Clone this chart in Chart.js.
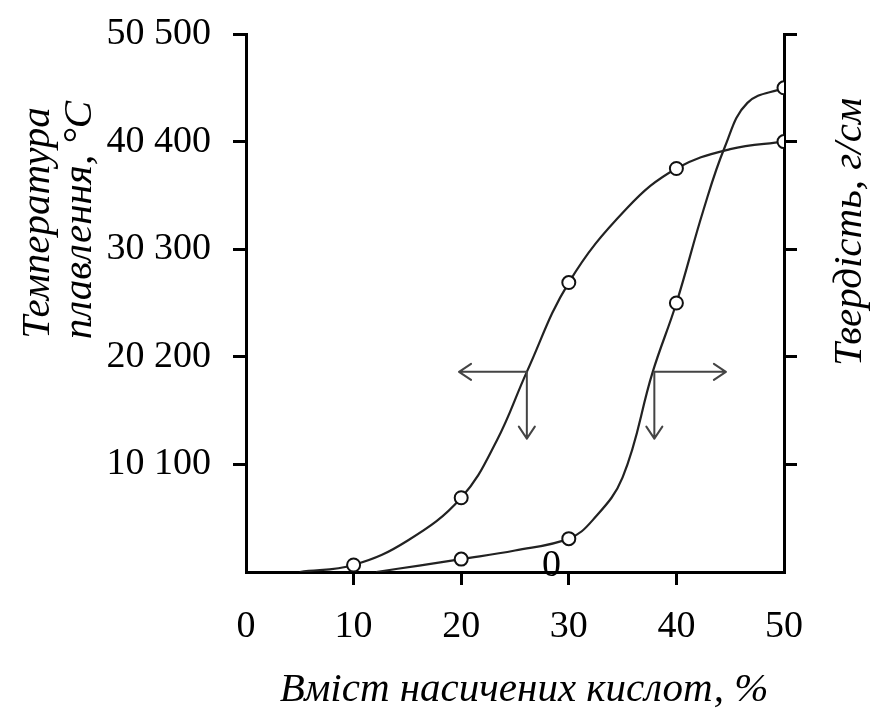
<!DOCTYPE html>
<html>
<head>
<meta charset="utf-8">
<script src="https://cdn.jsdelivr.net/npm/chart.js@4"></script>
<style>
html,body{margin:0;padding:0;background:#fff;}
#wrap{width:871px;height:711px;}
</style>
</head>
<body>
<div id="wrap"><canvas id="c" width="871" height="711"></canvas></div>
<script>
// ---- data ----
const xTicks = [0, 10, 20, 30, 40, 50];
const leftTickLabels = {10: '10 100', 20: '20 200', 30: '30 300', 40: '40 400', 50: '50 500'};

// melting temperature (left scale) – measured points
const tempX = [10, 20, 30, 40, 50];
const tempY = [0.65, 6.9, 26.9, 37.5, 40];
// smooth curve traced through them
const tempCurveX = [5, 10, 15, 20, 23.3, 26.1, 30, 35.4, 40, 45, 50];
const tempCurveY = [0, 0.65, 2.9, 6.9, 12.2, 18.6, 26.9, 33.8, 37.5, 39.3, 40];

// hardness (right scale) – measured points
const hardX = [20, 30, 40, 50];
const hardY = [1.2, 3.1, 25, 45];
const hardCurveX = [12.1, 16.1, 20, 25, 30, 32.2, 35, 37.8, 40, 42.5, 44.5, 46.6, 50];
const hardCurveY = [0, 0.6, 1.2, 2.0, 3.1, 4.8, 8.8, 18.6, 25, 33.6, 39.5, 43.6, 45];

// arrows (data units): origin, horizontal end, vertical end
const arrows = [
  {x: 26.1, y: 18.6, hx: 19.8, vy: 12.4},
  {x: 37.95, y: 18.6, hx: 44.6, vy: 12.4}
];
const strayLabel = {x: 28.4, y: 0.65, text: '0'};

const leftTitle = ['Температура', 'плавлення, °C'];
const rightTitle = 'Твердість, г/см';
const bottomTitle = 'Вміст насичених кислот, %';

// ---- chart ----
const SERIF = '"Liberation Serif", "Times New Roman", serif';
const pts = (xs, ys) => xs.map((x, i) => ({x, y: ys[i]}));
const tickColor = (hide) => (ctx) => (hide.includes(ctx.tick && ctx.tick.value) ? 'rgba(0,0,0,0)' : '#000');

const extras = {
  id: 'extras',
  afterDatasetsDraw(chart) {
    const {ctx} = chart;
    const xs = chart.scales.x, ys = chart.scales.y;
    ctx.save();
    ctx.strokeStyle = '#444';
    ctx.lineWidth = 2;
    ctx.lineCap = 'round';
    ctx.lineJoin = 'round';
    const head = 12, half = 8;
    arrows.forEach(a => {
      const ox = xs.getPixelForValue(a.x), oy = ys.getPixelForValue(a.y);
      const hx = xs.getPixelForValue(a.hx), vy = ys.getPixelForValue(a.vy);
      ctx.beginPath();
      ctx.moveTo(ox, oy); ctx.lineTo(hx, oy);
      ctx.moveTo(ox, oy); ctx.lineTo(ox, vy);
      const d = Math.sign(hx - ox);
      ctx.moveTo(hx - d * head, oy - half); ctx.lineTo(hx, oy); ctx.lineTo(hx - d * head, oy + half);
      ctx.moveTo(ox - half, vy - head); ctx.lineTo(ox, vy); ctx.lineTo(ox + half, vy - head);
      ctx.stroke();
    });
    ctx.fillStyle = '#000';
    ctx.font = '38px ' + SERIF;
    ctx.textAlign = 'center';
    ctx.textBaseline = 'middle';
    ctx.fillText(strayLabel.text, xs.getPixelForValue(strayLabel.x), ys.getPixelForValue(strayLabel.y) + 1);

    ctx.font = 'italic 41px ' + SERIF;
    const rot = (text, x, y) => {
      ctx.save(); ctx.translate(x, y); ctx.rotate(-Math.PI / 2); ctx.fillText(text, 0, 0); ctx.restore();
    };
    rot(leftTitle[0], 38, 223);
    rot(leftTitle[1], 80, 220);
    rot(rightTitle, 850, 232);
    ctx.fillText(bottomTitle, 524, 690);
    ctx.restore();
  }
};

const fitY = (w) => (s) => { s.width = w; s.paddingTop = 0; s.paddingBottom = 0; };

new Chart(document.getElementById('c'), {
  type: 'line',
  data: {
    datasets: [
      {label: 'temp pts', data: pts(tempX, tempY), yAxisID: 'y', showLine: false,
       pointRadius: 6.5, pointBackgroundColor: '#fff', pointBorderColor: '#111', pointBorderWidth: 2},
      {label: 'hard pts', data: pts(hardX, hardY), yAxisID: 'y2', showLine: false,
       pointRadius: 6.5, pointBackgroundColor: '#fff', pointBorderColor: '#111', pointBorderWidth: 2},
      {label: 'temp', data: pts(tempCurveX, tempCurveY), yAxisID: 'y', borderColor: '#222',
       borderWidth: 2.2, pointRadius: 0, tension: 0.4, fill: false},
      {label: 'hard', data: pts(hardCurveX, hardCurveY), yAxisID: 'y2', borderColor: '#222',
       borderWidth: 2.2, pointRadius: 0, tension: 0.4, fill: false}
    ]
  },
  options: {
    responsive: false,
    animation: false,
    layout: {padding: {top: 34, left: 0, right: 0, bottom: 0}},
    plugins: {legend: {display: false}, tooltip: {enabled: false}},
    scales: {
      x: {
        type: 'linear', min: 0, max: 50,
        afterBuildTicks: s => { s.ticks = xTicks.map(v => ({value: v})); },
        afterFit: s => { s.height = 139; s.paddingLeft = 0; s.paddingRight = 0; },
        ticks: {color: '#000', font: {family: SERIF, size: 38}, padding: 19, maxRotation: 0},
        grid: {drawOnChartArea: false, drawTicks: true, tickLength: 13, lineWidth: 3, color: tickColor([0, 50])},
        border: {display: true, color: '#000', width: 3}
      },
      y: {
        type: 'linear', position: 'left', min: 0, max: 50,
        afterBuildTicks: s => { s.ticks = xTicks.map(v => ({value: v})); },
        afterFit: fitY(246),
        ticks: {color: '#000', font: {family: SERIF, size: 38}, padding: 22,
                callback: v => leftTickLabels[v] || ''},
        grid: {drawOnChartArea: false, drawTicks: true, tickLength: 13, lineWidth: 3, color: tickColor([0])},
        border: {display: true, color: '#000', width: 3}
      },
      y2: {
        type: 'linear', position: 'right', min: 0, max: 50,
        afterBuildTicks: s => { s.ticks = xTicks.map(v => ({value: v})); },
        afterFit: fitY(87),
        ticks: {display: true, color: 'rgba(0,0,0,0)', callback: () => ''},
        grid: {drawOnChartArea: false, drawTicks: true, tickLength: 13, lineWidth: 3, color: tickColor([0])},
        border: {display: true, color: '#000', width: 3}
      }
    }
  },
  plugins: [extras]
});
</script>
</body>
</html>
